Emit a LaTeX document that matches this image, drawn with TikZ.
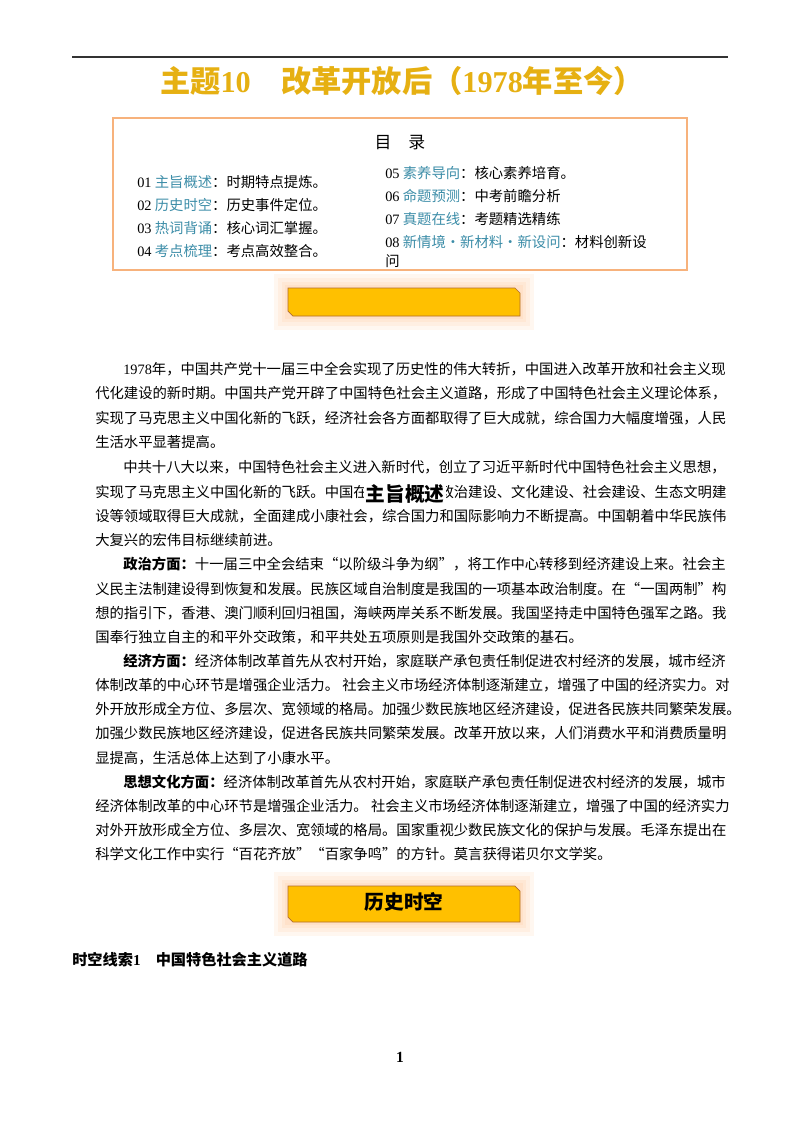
\documentclass[tikz,border=0pt]{standalone}
\usepackage{fontspec}
\setmainfont{Noto Sans CJK SC}
\newfontfamily\numfont{Liberation Serif}
\usepackage{tikz}
\definecolor{titlegold}{HTML}{E6B012}
\definecolor{tocline}{HTML}{F7B27C}
\definecolor{tocteal}{HTML}{3C8DA8}
\definecolor{bannerfill}{HTML}{FFC000}
\definecolor{bannerglow}{HTML}{FF9A40}
\begin{document}
\begin{tikzpicture}[x=0.025cm,y=-0.025cm,
	para/.style={anchor=west,inner sep=0,font=\fontsize{10.2}{12}\selectfont},
	toc/.style={anchor=west,inner sep=0,font=\fontsize{10.2}{12}\selectfont},
	banner/.style={fill=bannerfill,draw=bannerglow!70!black,line width=0.5pt}]
	\useasboundingbox (0,0) rectangle (800,1132);
	\fill[white] (0,0) rectangle (800,1132);

	% header rule and title
	\draw[line width=1pt,black!80] (72,57) -- (728,57);
	\node[inner sep=0,text=titlegold,font=\fontsize{21.5}{24}\selectfont\bfseries] (title) at (402,81)
		{主题{\numfont 10}\quad 改革开放后（{\numfont 1978}年至今）};

	% contents box
	\draw[tocline,line width=1pt] (113,118) rectangle (687,270);
	\node[inner sep=0,font=\fontsize{12}{14}\selectfont] (toch) at (400,143) {目\quad 录};
	\node[toc] (t1) at (137,182) {{\numfont 01}\ \textcolor{tocteal}{主旨概述}：时期特点提炼。};
	\node[toc] (t2) at (137,205) {{\numfont 02}\ \textcolor{tocteal}{历史时空}：历史事件定位。};
	\node[toc] (t3) at (137,228) {{\numfont 03}\ \textcolor{tocteal}{热词背诵}：核心词汇掌握。};
	\node[toc] (t4) at (137,251) {{\numfont 04}\ \textcolor{tocteal}{考点梳理}：考点高效整合。};
	\node[toc] (t5) at (385,173) {{\numfont 05}\ \textcolor{tocteal}{素养导向}：核心素养培育。};
	\node[toc] (t6) at (385,196) {{\numfont 06}\ \textcolor{tocteal}{命题预测}：中考前瞻分析};
	\node[toc] (t7) at (385,219) {{\numfont 07}\ \textcolor{tocteal}{真题在线}：考题精选精练};
	\node[toc] (t8) at (385,242) {{\numfont 08}\ \textcolor{tocteal}{新情境·新材料·新设问}：材料创新设};
	\node[toc] (t8b) at (385,261) {问};

	% first banner
	\foreach \g in {14,10,6,3}
		\fill[bannerglow,opacity=0.08] (288-\g,288-\g) rectangle (520+\g,316+\g);
	\draw[banner] (288,288) -- (515,288) -- (520,293) -- (520,316) -- (293,316) -- (288,311) -- cycle;

	% overview text
	\node[para] (p1) at (123,369) {{\numfont 1978}年，中国共产党十一届三中全会实现了历史性的伟大转折，中国进入改革开放和社会主义现};
	\node[para] (p2) at (95,393) {代化建设的新时期。中国共产党开辟了中国特色社会主义道路，形成了中国特色社会主义理论体系，};
	\node[para] (p3) at (95,418) {实现了马克思主义中国化新的飞跃，经济社会各方面都取得了巨大成就，综合国力大幅度增强，人民};
	\node[para] (p4) at (95,442) {生活水平显著提高。};
	\node[para] (p5) at (123,467) {中共十八大以来，中国特色社会主义进入新时代，创立了习近平新时代中国特色社会主义思想，};
	\node[para] (p6) at (95,492) {实现了马克思主义中国化新的飞跃。中国在经济建设、政治建设、文化建设、社会建设、生态文明建};
	\node[para] (p7) at (95,516) {设等领域取得巨大成就，全面建成小康社会，综合国力和国际影响力不断提高。中国朝着中华民族伟};
	\node[para] (p8) at (95,540) {大复兴的宏伟目标继续前进。};
	\node[fill=white,inner sep=1pt,font=\fontsize{14}{16}\selectfont\bfseries] (b1) at (405,494) {主旨概述};

	\node[para] (q1) at (123,564) {\textbf{政治方面：}十一届三中全会结束“以阶级斗争为纲”，将工作中心转移到经济建设上来。社会主};
	\node[para] (q2) at (95,589) {义民主法制建设得到恢复和发展。民族区域自治制度是我国的一项基本政治制度。在“一国两制”构};
	\node[para] (q3) at (95,613) {想的指引下，香港、澳门顺利回归祖国，海峡两岸关系不断发展。我国坚持走中国特色强军之路。我};
	\node[para] (q4) at (95,637) {国奉行独立自主的和平外交政策，和平共处五项原则是我国外交政策的基石。};

	\node[para] (r1) at (123,661) {\textbf{经济方面：}经济体制改革首先从农村开始，家庭联产承包责任制促进农村经济的发展，城市经济};
	\node[para] (r2) at (95,685) {体制改革的中心环节是增强企业活力。 社会主义市场经济体制逐渐建立，增强了中国的经济实力。对};
	\node[para] (r3) at (95,709) {外开放形成全方位、多层次、宽领域的格局。加强少数民族地区经济建设，促进各民族共同繁荣发展。};
	\node[para] (r4) at (95,733) {加强少数民族地区经济建设，促进各民族共同繁荣发展。改革开放以来，人们消费水平和消费质量明};
	\node[para] (r5) at (95,758) {显提高，生活总体上达到了小康水平。};

	\node[para] (s1) at (123,782) {\textbf{思想文化方面：}经济体制改革首先从农村开始，家庭联产承包责任制促进农村经济的发展，城市};
	\node[para] (s2) at (95,806) {经济体制改革的中心环节是增强企业活力。 社会主义市场经济体制逐渐建立，增强了中国的经济实力};
	\node[para] (s3) at (95,830) {对外开放形成全方位、多层次、宽领域的格局。国家重视少数民族文化的保护与发展。毛泽东提出在};
	\node[para] (s4) at (95,854) {科学文化工作中实行“百花齐放”“百家争鸣”的方针。莫言获得诺贝尔文学奖。};

	% second banner
	\foreach \g in {14,10,6,3}
		\fill[bannerglow,opacity=0.08] (288-\g,886-\g) rectangle (520+\g,922+\g);
	\draw[banner] (288,886) -- (515,886) -- (520,891) -- (520,922) -- (293,922) -- (288,917) -- cycle;
	\node[inner sep=0,font=\fontsize{14}{16}\selectfont\bfseries] (b2) at (404,902) {历史时空};

	\node[para,font=\fontsize{10.8}{12}\selectfont\bfseries] (clue) at (72,960) {时空线索{\numfont 1}\quad 中国特色社会主义道路};
	\node[inner sep=0,font=\numfont\bfseries\fontsize{11}{12}\selectfont] (pg) at (400,1057) {1};
\end{tikzpicture}
\end{document}
